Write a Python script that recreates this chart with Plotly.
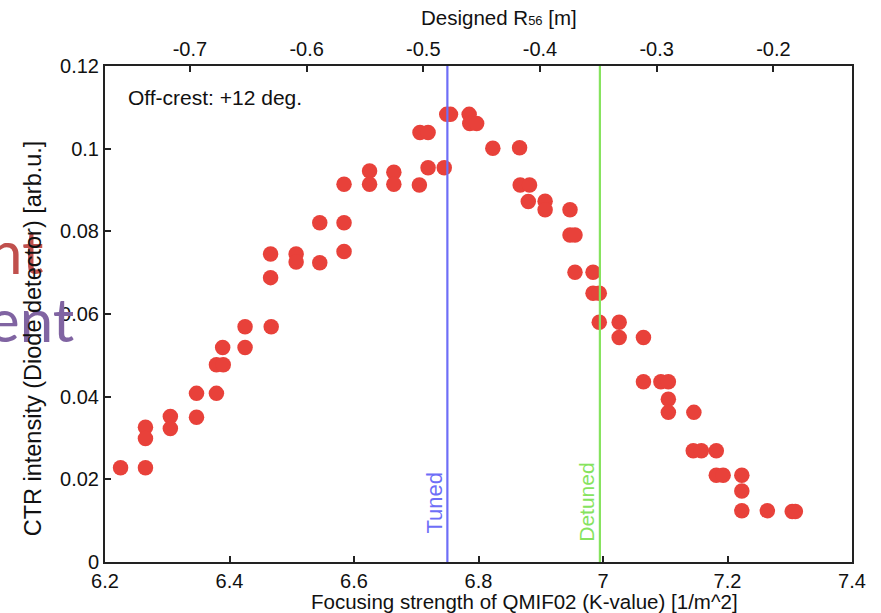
import plotly.graph_objects as go

# Quadrupole focusing strength scan (K-value, 1/m^2) and CTR diode signal (arb.u.)
k_value = [
    6.225, 6.265, 6.265, 6.265, 6.305, 6.305, 6.347, 6.347, 6.379, 6.379,
    6.390, 6.389, 6.425, 6.425, 6.467, 6.466, 6.466, 6.507, 6.507, 6.545,
    6.545, 6.584, 6.584, 6.584, 6.625, 6.625, 6.664, 6.664, 6.705, 6.706,
    6.719, 6.719, 6.745, 6.749, 6.755, 6.785, 6.786, 6.797, 6.823, 6.866,
    6.867, 6.882, 6.880, 6.907, 6.907, 6.947, 6.947, 6.955, 6.955, 6.984,
    6.984, 6.994, 6.994, 7.026, 7.026, 7.065, 7.065, 7.093, 7.105, 7.105,
    7.105, 7.146, 7.145, 7.158, 7.182, 7.182, 7.193, 7.223, 7.223, 7.223,
    7.264, 7.304, 7.309,
]
ctr_intensity = [
    0.0228, 0.0326, 0.0299, 0.0228, 0.0352, 0.0323, 0.0408, 0.0350, 0.0408, 0.0477,
    0.0477, 0.0519, 0.0569, 0.0519, 0.0569, 0.0688, 0.0745, 0.0745, 0.0726, 0.0724,
    0.0821, 0.0821, 0.0751, 0.0914, 0.0946, 0.0914, 0.0943, 0.0914, 0.0912, 0.1039,
    0.1039, 0.0954, 0.0954, 0.1083, 0.1083, 0.1083, 0.1061, 0.1061, 0.1001, 0.1002,
    0.0912, 0.0912, 0.0872, 0.0873, 0.0852, 0.0852, 0.0791, 0.0791, 0.0701, 0.0701,
    0.0650, 0.0650, 0.0580, 0.0580, 0.0543, 0.0543, 0.0436, 0.0436, 0.0436, 0.0394,
    0.0362, 0.0362, 0.0269, 0.0269, 0.0269, 0.0210, 0.0210, 0.0210, 0.0172, 0.0124,
    0.0124, 0.0122, 0.0122,
]

# Reference settings
TUNED_K = 6.75
DETUNED_K = 6.995

# Axis ranges / ticks
k_range = [6.2, 7.4]
ctr_range = [0, 0.12]
r56_range = [-0.7728, -0.1326]   # designed R56 matching the K-value range
r56_ticks = [-0.7, -0.6, -0.5, -0.4, -0.3, -0.2]
r56_ticktext = [f"{v:g}" for v in r56_ticks]

FAMILY = "Liberation Sans, Arial, sans-serif"
INK = "#111111"
TICK_FONT = dict(family=FAMILY, size=20, color=INK)
TITLE_FONT = dict(family=FAMILY, size=20.5, color=INK)

fig = go.Figure()

fig.add_trace(go.Scatter(
    x=k_value, y=ctr_intensity, mode="markers",
    marker=dict(size=15.5, color="#E8413A", line=dict(width=0)),
    showlegend=False, hoverinfo="x+y",
))

# empty trace so the top R56 axis is laid out
fig.add_trace(go.Scatter(x=[], y=[], xaxis="x2", yaxis="y", showlegend=False))

TUNED_COLOUR = "#6E6EF7"
DETUNED_COLOUR = "#86E35E"
for k, colour in ((TUNED_K, TUNED_COLOUR), (DETUNED_K, DETUNED_COLOUR)):
    fig.add_shape(type="line", xref="x", yref="paper", x0=k, x1=k, y0=0, y1=1,
                  line=dict(color=colour, width=2.2), layer="above")

annotations = [
    # partial slide words bleeding in from the left
    dict(text="nt", xref="paper", yref="paper", x=-0.0795, y=0.628,
         xanchor="right", yanchor="middle", showarrow=False,
         font=dict(family="Lato, sans-serif", size=60, color="#C0504D")),
    dict(text="ent", xref="paper", yref="paper", x=-0.039, y=0.49,
         xanchor="right", yanchor="middle", showarrow=False,
         font=dict(family="Lato, sans-serif", size=60, color="#8064A2")),
    # axis titles
    dict(text="CTR intensity (Diode detector) [arb.u.]", xref="paper", yref="paper",
         x=-0.097, y=0.45, xanchor="center", yanchor="middle", textangle=-90,
         showarrow=False, font=dict(family=FAMILY, size=23.5, color=INK)),
    dict(text="Focusing strength of QMIF02 (K-value) [1/m^2]", xref="paper", yref="paper",
         x=0.562, y=-0.08, xanchor="center", yanchor="middle", showarrow=False,
         font=TITLE_FONT),
    dict(text="Designed R<span style='font-size:13px'>56</span> [m]", xref="paper", yref="paper",
         x=0.528, y=1.097, xanchor="center", yanchor="middle", showarrow=False,
         font=TITLE_FONT),
    # in-plot labels
    dict(text="Off-crest: +12 deg.", xref="x", yref="y", x=6.233, y=0.1125,
         xanchor="left", yanchor="middle", showarrow=False,
         font=dict(family=FAMILY, size=21, color=INK)),
    dict(text="Tuned", xref="x", yref="y", x=TUNED_K, y=0.0065, xshift=-13,
         xanchor="center", yanchor="bottom", textangle=-90, showarrow=False,
         font=dict(family=FAMILY, size=22, color=TUNED_COLOUR)),
    dict(text="Detuned", xref="x", yref="y", x=DETUNED_K, y=0.0045, xshift=-13,
         xanchor="center", yanchor="bottom", textangle=-90, showarrow=False,
         font=dict(family=FAMILY, size=21, color=DETUNED_COLOUR)),
]

axis_common = dict(
    showline=True, linecolor="#222222", linewidth=2, ticks="inside", ticklen=6,
    tickwidth=1.5, tickcolor="#222222", showgrid=False, zeroline=False,
    tickfont=TICK_FONT,
)

fig.update_layout(
    width=881, height=613,
    margin=dict(l=105, r=29, t=66, b=51),
    paper_bgcolor="white", plot_bgcolor="white",
    xaxis=dict(range=k_range, dtick=0.2, tick0=6.2, **axis_common),
    xaxis2=dict(range=r56_range, tickvals=r56_ticks, ticktext=r56_ticktext,
                overlaying="x", side="top", anchor="y", **axis_common),
    yaxis=dict(range=ctr_range, dtick=0.02, tick0=0, mirror=True, **axis_common),
    annotations=annotations,
)

fig.write_html("out.html")
